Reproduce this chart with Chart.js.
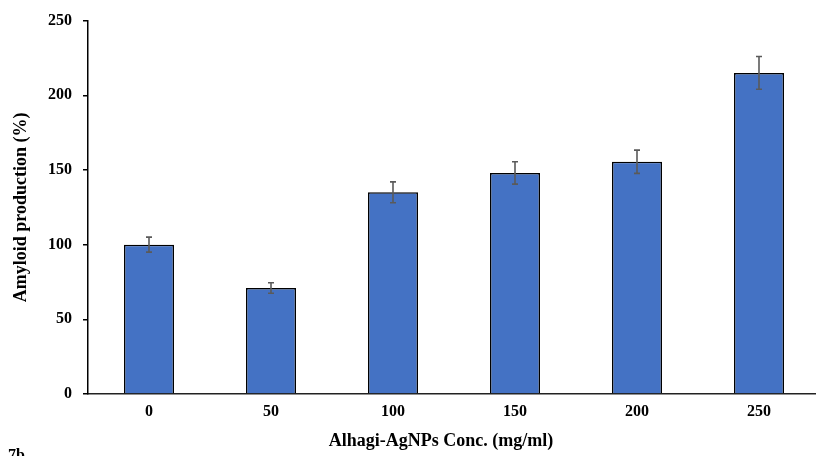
<!DOCTYPE html>
<html><head><meta charset="utf-8">
<script src="https://cdn.jsdelivr.net/npm/chart.js@4/dist/chart.umd.min.js"></script>
<style>
html,body{margin:0;padding:0;background:#fff;overflow:hidden;width:816px;height:456px;}
#wrap{position:relative;width:816px;height:456px;overflow:hidden;}
#c{position:absolute;left:0;top:0;}
#note{position:absolute;left:8px;top:447px;font:bold 16px "Liberation Serif",serif;color:#000;line-height:16px;}
</style></head>
<body><div id="wrap"><canvas id="c" width="828" height="456"></canvas><div id="note">7b</div></div>
<script>
const categories = ['0','50','100','150','200','250'];
const amyloid = [100, 71, 135, 148, 155.5, 215];
const errors = [5, 3.5, 7, 7.5, 7.8, 11];
const yTicks = [0, 50, 100, 150, 200, 250];
const xTitle = 'Alhagi-AgNPs Conc. (mg/ml)';
const yTitle = 'Amyloid production (%)';

const errorBars = {
  id:'errorBars',
  afterDatasetsDraw(chart){
    const ctx = chart.ctx, y = chart.scales.y, meta = chart.getDatasetMeta(0);
    ctx.save();
    ctx.strokeStyle = '#5a5a5a'; ctx.lineWidth = 1.6;
    meta.data.forEach((bar,i)=>{
      const x = bar.x, v = amyloid[i], e = errors[i];
      const yt = y.getPixelForValue(v+e), yb = y.getPixelForValue(v-e);
      ctx.beginPath();
      ctx.moveTo(x,yt); ctx.lineTo(x,yb);
      ctx.moveTo(x-3,yt); ctx.lineTo(x+3,yt);
      ctx.moveTo(x-3,yb); ctx.lineTo(x+3,yb);
      ctx.stroke();
    });
    ctx.restore();
  }
};

const xTitlePlugin = {
  id:'xTitlePlugin',
  afterDraw(chart){
    const ctx = chart.ctx;
    ctx.save();
    ctx.font = 'bold 18px "Liberation Serif", serif';
    ctx.fillStyle = '#000'; ctx.textAlign = 'center'; ctx.textBaseline = 'middle';
    ctx.fillText(xTitle, 441, 441);
    ctx.restore();
  }
};

const tickFont = {family:'"Liberation Serif", serif', weight:'bold', size:16};
const titleFont = {family:'"Liberation Serif", serif', weight:'bold', size:18};
new Chart(document.getElementById('c'), {
  type:'bar',
  data:{labels:categories, datasets:[{data:amyloid, backgroundColor:'#4472C4', borderColor:'#000', borderWidth:1.5, barPercentage:0.82, categoryPercentage:0.5}]},
  options:{
    responsive:false, animation:false,
    layout:{padding:{left:0, top:20, right:8, bottom:0}},
    plugins:{legend:{display:false}, tooltip:{enabled:false}},
    scales:{
      x:{
        grid:{display:false, drawTicks:false}, border:{color:'#222', width:1.5},
        ticks:{color:'#000', font:tickFont, padding:8},
        title:{display:false},
        afterFit(s){ s.height = 62; }
      },
      y:{
        min:0, max:250,
        afterBuildTicks(s){ s.ticks = yTicks.map(v=>({value:v})); },
        grid:{drawOnChartArea:false, drawTicks:true, tickLength:5, color:'#000', lineWidth:1.5},
        border:{color:'#000', width:1.5},
        ticks:{color:'#000', font:tickFont, padding:11},
        title:{display:true, text:yTitle, color:'#000', font:titleFont, padding:{top:11,bottom:0}},
        afterFit(s){ s.width = 88; }
      }
    }
  },
  plugins:[errorBars, xTitlePlugin]
});
</script></body></html>
